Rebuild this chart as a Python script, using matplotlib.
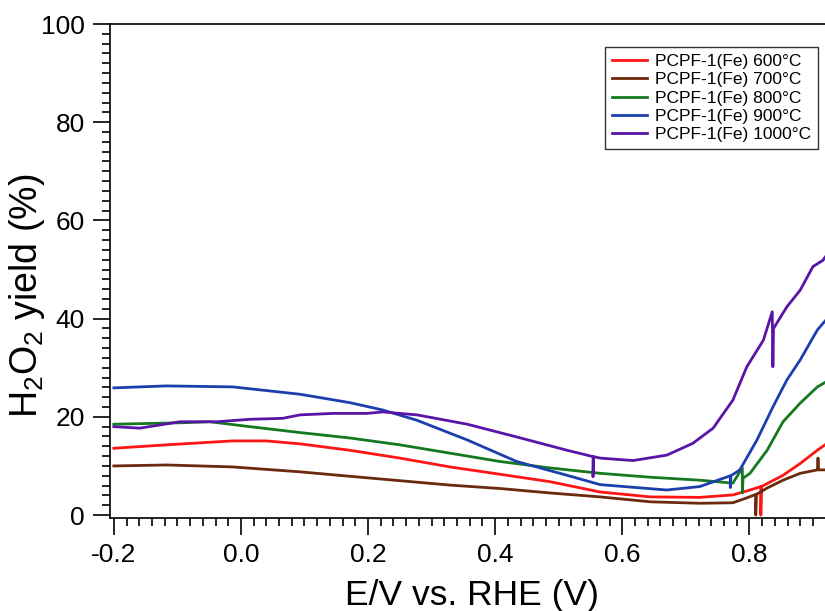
import numpy as np
import matplotlib.pyplot as plt
from matplotlib.ticker import MultipleLocator

plt.rcParams['font.family'] = ['Liberation Sans', 'DejaVu Sans']
plt.rcParams['mathtext.fontset'] = 'custom'
plt.rcParams['mathtext.rm'] = 'Liberation Sans'
plt.rcParams['mathtext.it'] = 'Liberation Sans:italic'

# Values (potential in V vs RHE, H2O2 yield in %)
v_600 = [-0.2, -0.117, -0.013, 0.040, 0.093, 0.171, 0.250, 0.329, 0.408, 0.486,
         0.565, 0.644, 0.722, 0.774, 0.801, 0.818, 0.818, 0.819, 0.853, 0.880, 0.907, 0.919]
y_600 = [13.6, 14.3, 15.1, 15.1, 14.5, 13.2, 11.6, 9.8, 8.3, 6.8,
         4.7, 3.7, 3.6, 4.1, 5.1, 5.8, 0.0, 5.8, 8.1, 10.5, 13.2, 14.3]

v_700 = [-0.2, -0.117, -0.013, 0.093, 0.171, 0.250, 0.329, 0.408, 0.486,
         0.565, 0.644, 0.722, 0.774, 0.796, 0.810, 0.810, 0.811, 0.828, 0.853,
         0.880, 0.907, 0.908, 0.909, 0.919]
y_700 = [10.0, 10.2, 9.8, 8.8, 7.9, 7.0, 6.1, 5.4, 4.5,
         3.7, 2.7, 2.4, 2.5, 3.5, 4.2, 0.0, 4.2, 5.5, 7.1,
         8.5, 9.2, 11.6, 9.2, 9.2]

v_800 = [-0.2, -0.091, -0.049, 0.014, 0.093, 0.171, 0.250, 0.329, 0.408, 0.486,
         0.565, 0.644, 0.722, 0.774, 0.789, 0.789, 0.790, 0.801, 0.828, 0.853,
         0.880, 0.907, 0.919]
y_800 = [18.5, 18.8, 19.0, 18.0, 16.8, 15.7, 14.3, 12.6, 10.9, 9.6,
         8.5, 7.7, 7.1, 6.5, 9.6, 4.5, 7.5, 8.5, 13.2, 19.0,
         22.8, 26.1, 27.0]

v_900 = [-0.2, -0.117, -0.013, 0.093, 0.171, 0.223, 0.277, 0.356, 0.434, 0.513,
         0.565, 0.670, 0.722, 0.770, 0.770, 0.771, 0.785, 0.812, 0.837, 0.859,
         0.880, 0.907, 0.919]
y_900 = [25.9, 26.3, 26.1, 24.6, 22.9, 21.4, 19.3, 15.3, 10.9, 8.1,
         6.2, 5.1, 5.8, 8.0, 5.6, 8.0, 9.2, 15.3, 22.0, 27.5,
         31.6, 37.7, 39.5]

v_1000 = [-0.2, -0.159, -0.096, -0.038, 0.014, 0.066, 0.093, 0.145, 0.198, 0.223,
          0.277, 0.356, 0.434, 0.513, 0.554, 0.554, 0.555, 0.565, 0.617, 0.670,
          0.711, 0.743, 0.774, 0.796, 0.822, 0.836, 0.837, 0.838, 0.859, 0.880,
          0.900, 0.916, 0.919]
y_1000 = [18.0, 17.7, 19.0, 19.0, 19.5, 19.7, 20.4, 20.7, 20.7, 21.0,
          20.4, 18.5, 15.9, 13.2, 11.9, 7.8, 11.9, 11.6, 11.1, 12.2,
          14.6, 17.7, 23.4, 30.2, 35.6, 41.4, 30.2, 38.0, 42.4, 45.8,
          50.6, 51.9, 52.5]

labels = ["PCPF-1(Fe) 600\u00b0C", "PCPF-1(Fe) 700\u00b0C", "PCPF-1(Fe) 800\u00b0C",
          "PCPF-1(Fe) 900\u00b0C", "PCPF-1(Fe) 1000\u00b0C"]
colors = ['#ff1414', '#6b2a0c', '#157a1f', '#1c3fae', '#5a14a8']

fig = plt.figure(figsize=(8.25, 6.11), dpi=100)
ax = fig.add_axes([110 / 825, 1 - 518 / 611, 1 - 110 / 825, (518 - 24) / 611])

series = [(v_600, y_600), (v_700, y_700), (v_800, y_800), (v_900, y_900), (v_1000, y_1000)]
for (xv, yv), lab, col in zip(series, labels, colors):
    ax.plot(xv, yv, color=col, lw=2, label=lab)

ax.set_xlim(-0.206, 0.919)
ax.set_ylim(-0.6, 100)

ax.xaxis.set_major_locator(MultipleLocator(0.2))
ax.xaxis.set_minor_locator(MultipleLocator(0.02))
ax.yaxis.set_major_locator(MultipleLocator(20))
ax.yaxis.set_minor_locator(MultipleLocator(2))
ax.set_xticks(np.arange(-0.2, 0.81, 0.2))
ax.set_xticklabels(["-0.2", "0.0", "0.2", "0.4", "0.6", "0.8"])

ax.tick_params(which='major', direction='out', length=12, width=1.2, labelsize=19, pad=6)
ax.tick_params(which='minor', direction='out', length=6, width=1.2)
ax.spines['right'].set_visible(False)
for s in ['left', 'bottom', 'top']:
    ax.spines[s].set_linewidth(1.2)

ax.set_xlabel("E/V vs. RHE (V)", fontsize=25.5)
ax.xaxis.label.set_va('baseline')
ax.xaxis.set_label_coords(0.506, -0.176)
ax.set_ylabel("H$_2$O$_2$ yield (%)", fontsize=27)
ax.yaxis.set_label_coords(-0.088, 0.45)

leg = ax.legend(loc='upper right', bbox_to_anchor=(818 / 825, 1 - 47 / 611),
                bbox_transform=fig.transFigure, borderaxespad=0, fontsize=12.5,
                frameon=True, fancybox=False, handlelength=2.0, labelspacing=0.18,
                handletextpad=0.45, borderpad=0.4)
leg.get_frame().set_edgecolor('black')
leg.get_frame().set_linewidth(1.0)

fig.savefig("out.png", dpi=100)
